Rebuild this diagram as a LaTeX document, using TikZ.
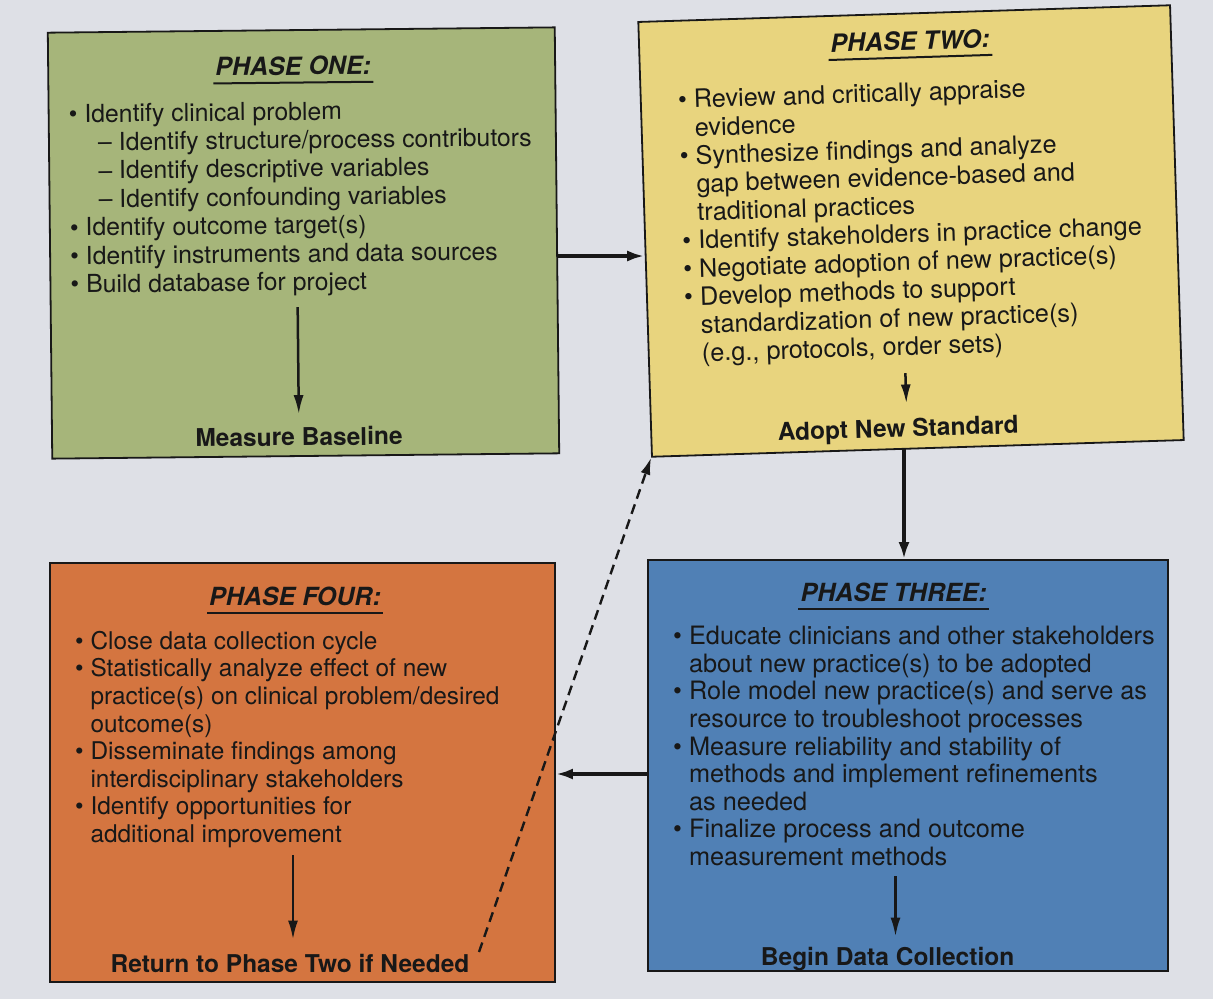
\documentclass[tikz,border=0pt]{standalone}
\usepackage{fontspec}
\setmainfont{TeX Gyre Heros}
\usetikzlibrary{arrows.meta,calc}
\definecolor{bg}{RGB}{222,224,230}
\definecolor{pone}{RGB}{166,181,122}
\definecolor{ptwo}{RGB}{232,212,126}
\definecolor{pthree}{RGB}{80,128,181}
\definecolor{pfour}{RGB}{212,117,64}
\definecolor{ink}{RGB}{24,24,24}
\newcommand{\myb}{\textbullet\ }
\newcommand{\myi}{\phantom{\textbullet\ }}
\tikzset{
  phasebox/.style={draw=ink, line width=1.8pt, inner sep=0pt},
  ttl/.style={font=\fontsize{25}{30}\selectfont\bfseries\itshape, text=ink, inner xsep=2pt, inner ysep=7pt, anchor=base},
  uline/.style={draw=ink, line width=2pt},
  body/.style={align=left, inner sep=0pt, anchor=base west, text=ink},
  lbl/.style={font=\fontsize{24.5}{28}\selectfont\bfseries, text=ink, inner sep=0pt, anchor=base},
  flow/.style={draw=ink, line width=3.4pt, -{Latex[length=17pt,width=11pt]}},
  inarr/.style={draw=ink, line width=2.5pt, -{Latex[length=19pt,width=10pt]}},
  backarr/.style={draw=ink, line width=2.4pt, dash pattern=on 10pt off 6pt, -{Latex[length=17pt,width=10pt]}},
}
\begin{document}
\begin{tikzpicture}[x=1pt,y=-1pt]
\useasboundingbox (0,0) rectangle (1213,999);
\fill[bg] (0,0) rectangle (1213,999);

% ---------------- PHASE ONE ----------------
\begin{scope}[rotate around={0.6:(303.5,243)}, transform shape]
\node[phasebox, fill=pone, minimum width=507pt, minimum height=426pt] (p1) at (303.5,243) {};
\node[ttl] (t1) at (295,75) {PHASE ONE:};
\draw[uline] (t1.south west) -- (t1.south east);
% anchor base = baseline of the last line
\node[body, font=\fontsize{24.8}{28.4}\selectfont] (b1) at (70,290.5) {%
\myb Identify clinical problem\\
\hspace*{29pt}– Identify structure/process contributors\\
\hspace*{29pt}– Identify descriptive variables\\
\hspace*{29pt}– Identify confounding variables\\
\myb Identify outcome target(s)\\
\myb Identify instruments and data sources\\
\myb Build database for project};
\node[lbl] (m1) at (297,445.6) {Measure Baseline};
\coordinate (a1s) at (297,307);
\draw[inarr, shorten >=13pt] (a1s) -- (m1.north);
\end{scope}

% ---------------- PHASE TWO ----------------
\begin{scope}[rotate around={1.8:(911,231)}, transform shape]
\node[phasebox, fill=ptwo, minimum width=532pt, minimum height=435pt] (p2) at (911,231) {};
\node[ttl] (t2) at (916,50) {PHASE TWO:};
\draw[uline] (t2.south west) -- (t2.south east);
\node[body, font=\fontsize{25.3}{28.2}\selectfont] (b2) at (682,355) {%
\myb Review and critically appraise\\
\myi evidence\\
\myb Synthesize findings and analyze\\
\myi gap between evidence-based and\\
\myi traditional practices\\
\myb Identify stakeholders in practice change\\
\myb Negotiate adoption of new practice(s)\\
\myb Develop methods to support\\
\myi standardization of new practice(s)\\
\myi (e.g., protocols, order sets)};
\node[lbl] (m2) at (892,436.6) {Adopt New Standard};
\coordinate (a2s) at (901,373);
\draw[inarr, shorten >=15pt] (a2s) -- (a2s |- m2.north);
\end{scope}

% ---------------- PHASE THREE ----------------
\node[phasebox, fill=pthree, minimum width=520pt, minimum height=411pt] (p3) at (908,765.5) {};
\node[ttl] (t3) at (893.7,601) {PHASE THREE:};
\draw[uline] (t3.south west) -- (t3.south east);
\node[body, font=\fontsize{25.3}{27.6}\selectfont] (b3) at (673,865.5) {%
\myb Educate clinicians and other stakeholders\\
\myi about new practice(s) to be adopted\\
\myb Role model new practice(s) and serve as\\
\myi resource to troubleshoot processes\\
\myb Measure reliability and stability of\\
\myi methods and implement refinements\\
\myi as needed\\
\myb Finalize process and outcome\\
\myi measurement methods};
\node[lbl] (m3) at (887.6,965) {Begin Data Collection};
\coordinate (a3s) at (895.5,876);
\draw[inarr, shorten >=10pt] (a3s) -- (a3s |- m3.north);

% ---------------- PHASE FOUR ----------------
\node[phasebox, fill=pfour, minimum width=505pt, minimum height=419pt] (p4) at (302.5,772.5) {};
\node[ttl] (t4) at (295,605) {PHASE FOUR:};
\draw[uline] (t4.south west) -- (t4.south east);
\node[body, font=\fontsize{24.4}{27.6}\selectfont] (b4) at (75,842.5) {%
\myb Close data collection cycle\\
\myb Statistically analyze effect of new\\
\myi practice(s) on clinical problem/desired\\
\myi outcome(s)\\
\myb Disseminate findings among\\
\myi interdisciplinary stakeholders\\
\myb Identify opportunities for\\
\myi additional improvement};
\node[lbl] (m4) at (290,972) {Return to Phase Two if Needed};
\coordinate (a4s) at (293,855);
\draw[inarr, shorten >=14pt] (a4s) -- (a4s |- m4.north);

% ---------------- CONNECTORS ----------------
\coordinate (h12) at (0,256);
\coordinate (v23) at (904,0);
\coordinate (h34) at (0,774);
\draw[flow] (p1.east |- h12) -- (p2.west |- h12);
\draw[flow] (p2.south -| v23) -- (p3.north -| v23);
\draw[flow] (p3.west |- h34) -- (p4.east |- h34);
\coordinate (ds) at (479,952);
\draw[backarr] (ds) -- (p2.south west);
\end{tikzpicture}
\end{document}
